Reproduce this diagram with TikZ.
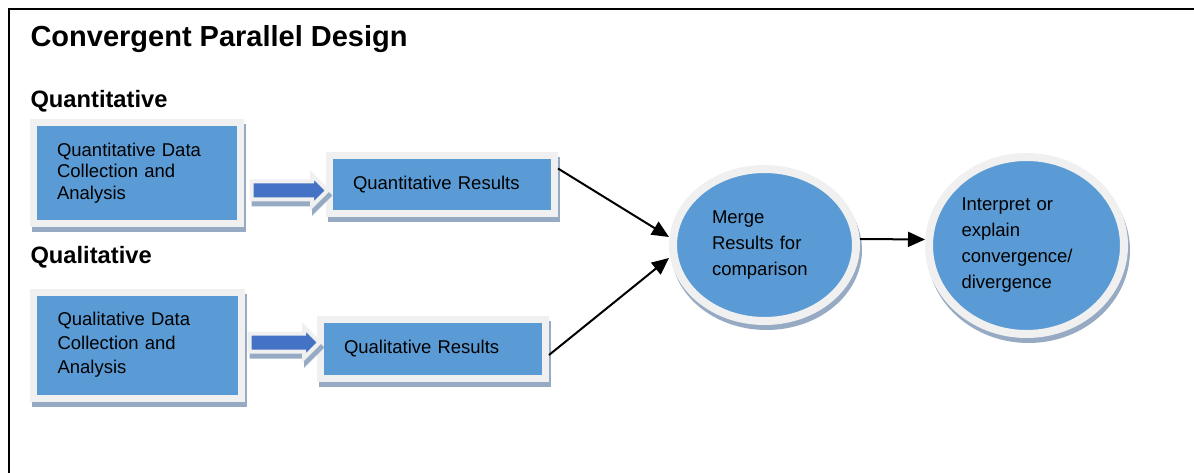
\documentclass[tikz,border=0pt]{standalone}
\usepackage{fontspec}
\setmainfont{Liberation Sans}
\setsansfont{Liberation Sans}
\usepackage{tikz}
\usetikzlibrary{arrows.meta,shapes.geometric,shapes.arrows}
\usepackage{xcolor}
\definecolor{boxblue}{HTML}{5B9BD5}
\definecolor{arrowblue}{HTML}{4472C4}
\definecolor{rimgrey}{HTML}{F0F0F0}
\definecolor{shadowgrey}{HTML}{97AAC3}

\begin{document}
\begin{tikzpicture}[
  x=1pt, y=-1pt,
  font=\sffamily,
  >={Triangle[length=17pt,width=15pt]},
  shadowed/.style={
    preaction={draw=shadowgrey, fill=shadowgrey, line width=#1,
      transform canvas={xshift=2pt, yshift=-5pt}}
  },
  databox/.style={
    shadowed=7pt,
    draw=rimgrey,
    fill=boxblue,
    line width=7pt,
    inner sep=0pt,
    align=left,
    font=\fontsize{18.5}{21.5}\selectfont
  },
  resultbox/.style={
    databox,
    minimum width=225pt,
    minimum height=58pt,
    text width=178pt
  },
  bubble/.style={
    ellipse,
    shadowed=8pt,
    draw=rimgrey,
    fill=boxblue,
    line width=8pt,
    inner sep=0pt,
    align=left,
    font=\fontsize{18.5}{26}\selectfont
  },
  fatarrow/.style={
    single arrow,
    shadowed=4pt,
    draw=rimgrey,
    fill=arrowblue,
    line width=4pt,
    inner xsep=0pt,
    inner ysep=7pt,
    single arrow head extend=6.5pt,
    single arrow head indent=0pt
  },
  heading/.style={anchor=base west, font=\bfseries\fontsize{23.7}{28}\selectfont},
  link/.style={->, line width=2pt, draw=black}
]
  \useasboundingbox (0,0) rectangle (1194,473);

  % page frame
  \draw[line width=2pt] (9,473) -- (9,9) -- (1194,9);

  % Titles
  \node[anchor=base west, font=\bfseries\fontsize{29}{34}\selectfont] (title) at (27,47) {Convergent Parallel Design};
  \node[heading] (qnhead) at (27,108) {Quantitative};
  \node[heading] (qlhead) at (27,263) {Qualitative};

  % Quantitative strand
  \node[databox, minimum width=207pt, minimum height=101pt, text width=160pt] (qndata) at (137,173)
    {Quantitative Data\\Collection and\\Analysis};
  \node[resultbox] (qnres) at (442,184.5) {Quantitative Results};
  \node[fatarrow, minimum height=76pt] (qnarrow) at (285,190.5) {};

  % Qualitative strand
  \node[databox, minimum width=208pt, minimum height=106pt, text width=160pt,
    font=\fontsize{18.5}{24}\selectfont] (qldata) at (137.5,345)
    {Qualitative Data\\Collection and\\Analysis};
  \node[resultbox, minimum height=59pt] (qlres) at (433,349) {Qualitative Results};
  \node[fatarrow, minimum height=70pt] (qlarrow) at (280,342.5) {};

  % Merge and interpretation
  \node[bubble, minimum width=183pt, minimum height=152pt, text width=105pt] (merge) at (764.5,245)
    {Merge\\Results for\\comparison};
  \node[bubble, minimum width=195pt, minimum height=177pt, text width=130pt] (interp) at (1026.5,245.5)
    {Interpret or\\explain\\convergence/\\divergence};

  % Connectors
  \draw[link] ([yshift=16pt]qnres.east) -- ([yshift=8pt]merge.west);
  \draw[link] ([yshift=-6pt]qlres.east) -- ([yshift=-13pt]merge.west);
  \draw[link] ([yshift=6pt]merge.east) -- ([yshift=6pt]interp.west);

\end{tikzpicture}
\end{document}
